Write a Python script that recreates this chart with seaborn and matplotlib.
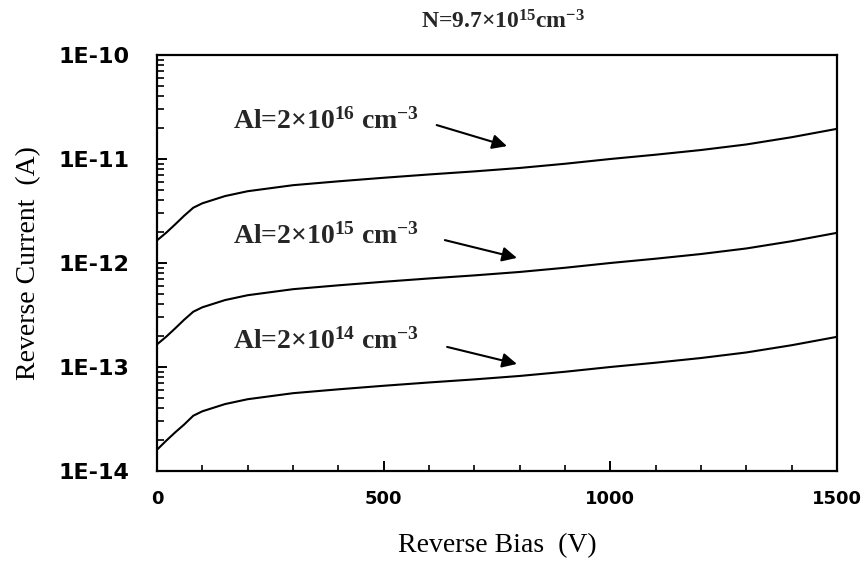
import matplotlib
matplotlib.use("Agg")
import matplotlib.pyplot as plt
import seaborn as sns
import pandas as pd
import numpy as np
from matplotlib.ticker import LogLocator, FixedLocator, MultipleLocator, NullFormatter

# ---- data ----
bias_v = [0, 20, 40, 60, 80, 100, 150, 200, 300, 400, 500, 600, 700, 800,
          900, 1000, 1100, 1200, 1300, 1400, 1500]
current_al16 = [1.65e-12, 1.95e-12, 2.35e-12, 2.85e-12, 3.4e-12, 3.75e-12, 4.4e-12,
                4.9e-12, 5.6e-12, 6.1e-12, 6.6e-12, 7.1e-12, 7.6e-12, 8.2e-12,
                9.0e-12, 1.0e-11, 1.1e-11, 1.22e-11, 1.38e-11, 1.62e-11, 1.95e-11]
current_al15 = [1.65e-13, 1.95e-13, 2.35e-13, 2.85e-13, 3.4e-13, 3.75e-13, 4.4e-13,
                4.9e-13, 5.6e-13, 6.1e-13, 6.6e-13, 7.1e-13, 7.6e-13, 8.2e-13,
                9.0e-13, 1.0e-12, 1.1e-12, 1.22e-12, 1.38e-12, 1.62e-12, 1.95e-12]
current_al14 = [1.6e-14, 1.95e-14, 2.35e-14, 2.8e-14, 3.4e-14, 3.75e-14, 4.4e-14,
                4.9e-14, 5.6e-14, 6.1e-14, 6.6e-14, 7.1e-14, 7.6e-14, 8.2e-14,
                9.0e-14, 1.0e-13, 1.1e-13, 1.22e-13, 1.38e-13, 1.62e-13, 1.95e-13]
series_names = ["Al16", "Al15", "Al14"]
labels = [r"Al=2×10$^{16}$ cm$^{-3}$", r"Al=2×10$^{15}$ cm$^{-3}$", r"Al=2×10$^{14}$ cm$^{-3}$"]
title_text = r"N=9.7×10$^{15}$cm$^{-3}$"
x_ticks = [0, 500, 1000, 1500]
y_ticks = [1e-14, 1e-13, 1e-12, 1e-11, 1e-10]
y_tick_labels = ["1E-14", "1E-13", "1E-12", "1E-11", "1E-10"]

df = pd.concat([
    pd.DataFrame({"V": bias_v, "I": vals, "series": name})
    for name, vals in zip(series_names, [current_al16, current_al15, current_al14])
], ignore_index=True)

sns.set_theme(style="white")
plt.rcParams["mathtext.fontset"] = "custom"
plt.rcParams["mathtext.rm"] = "Liberation Serif:bold"
plt.rcParams["mathtext.it"] = "Liberation Serif:bold"
plt.rcParams["mathtext.bf"] = "Liberation Serif:bold"

fig = plt.figure(figsize=(8.65, 5.63), dpi=100)
ax = fig.add_axes([157/865, 92/563, 680/865, 416/563])

sns.lineplot(data=df, x="V", y="I", hue="series", palette=["black"]*3,
             legend=False, ax=ax, linewidth=1.5, estimator=None)
ax.set_yscale("log")
ax.set_xlim(0, 1500)
ax.set_ylim(1e-14, 1e-10)

for s in ax.spines.values():
    s.set_color("black")
    s.set_linewidth(1.6)

ax.xaxis.set_major_locator(FixedLocator(x_ticks))
ax.xaxis.set_minor_locator(MultipleLocator(100))
ax.set_xticklabels([str(t) for t in x_ticks], fontsize=13, fontweight="bold",
                   family="DejaVu Sans")
ax.yaxis.set_major_locator(FixedLocator(y_ticks))
ax.set_yticklabels(y_tick_labels, fontsize=16, fontweight="bold", family="DejaVu Sans")
ax.yaxis.set_minor_locator(LogLocator(base=10, subs=np.arange(2, 10), numticks=20))
ax.yaxis.set_minor_formatter(NullFormatter())

ax.tick_params(axis="both", which="both", direction="in", colors="black",
               top=False, right=False, bottom=True, left=True)
ax.tick_params(axis="x", which="major", length=7, width=1.4, pad=14)
ax.tick_params(axis="x", which="minor", length=4, width=1.2)
ax.tick_params(axis="y", which="major", length=7, width=1.4, pad=20)
ax.tick_params(axis="y", which="minor", length=5, width=1.2)

ax.set_xlabel("Reverse Bias  (V)", fontsize=20, family="Liberation Serif",
              labelpad=18, color="black")
ax.set_ylabel("Reverse Current  (A)", fontsize=20, family="Liberation Serif",
              labelpad=12, color="black")

fig.text(503/865, 1 - 22/563, title_text, ha="center", va="center",
         fontsize=17, fontweight="bold", family="Liberation Serif")

text_pos = [(168, 1.94e-11), (168, 1.52e-12), (168, 1.49e-13)]
arrow_start = [(617, 2.12e-11), (635, 1.66e-12), (640, 1.56e-13)]
arrow_end = [(772, 1.33e-11), (794, 1.12e-12), (794, 1.07e-13)]
for lab, tp, a0, a1 in zip(labels, text_pos, arrow_start, arrow_end):
    ax.text(tp[0], tp[1], lab, fontsize=20, fontweight="bold",
            family="Liberation Serif", ha="left", va="baseline")
    ax.annotate("", xy=a1, xytext=a0,
                arrowprops=dict(arrowstyle="-|>", color="black", lw=1.5,
                                mutation_scale=22, shrinkA=0, shrinkB=0))

fig.savefig("out.png", dpi=100)
